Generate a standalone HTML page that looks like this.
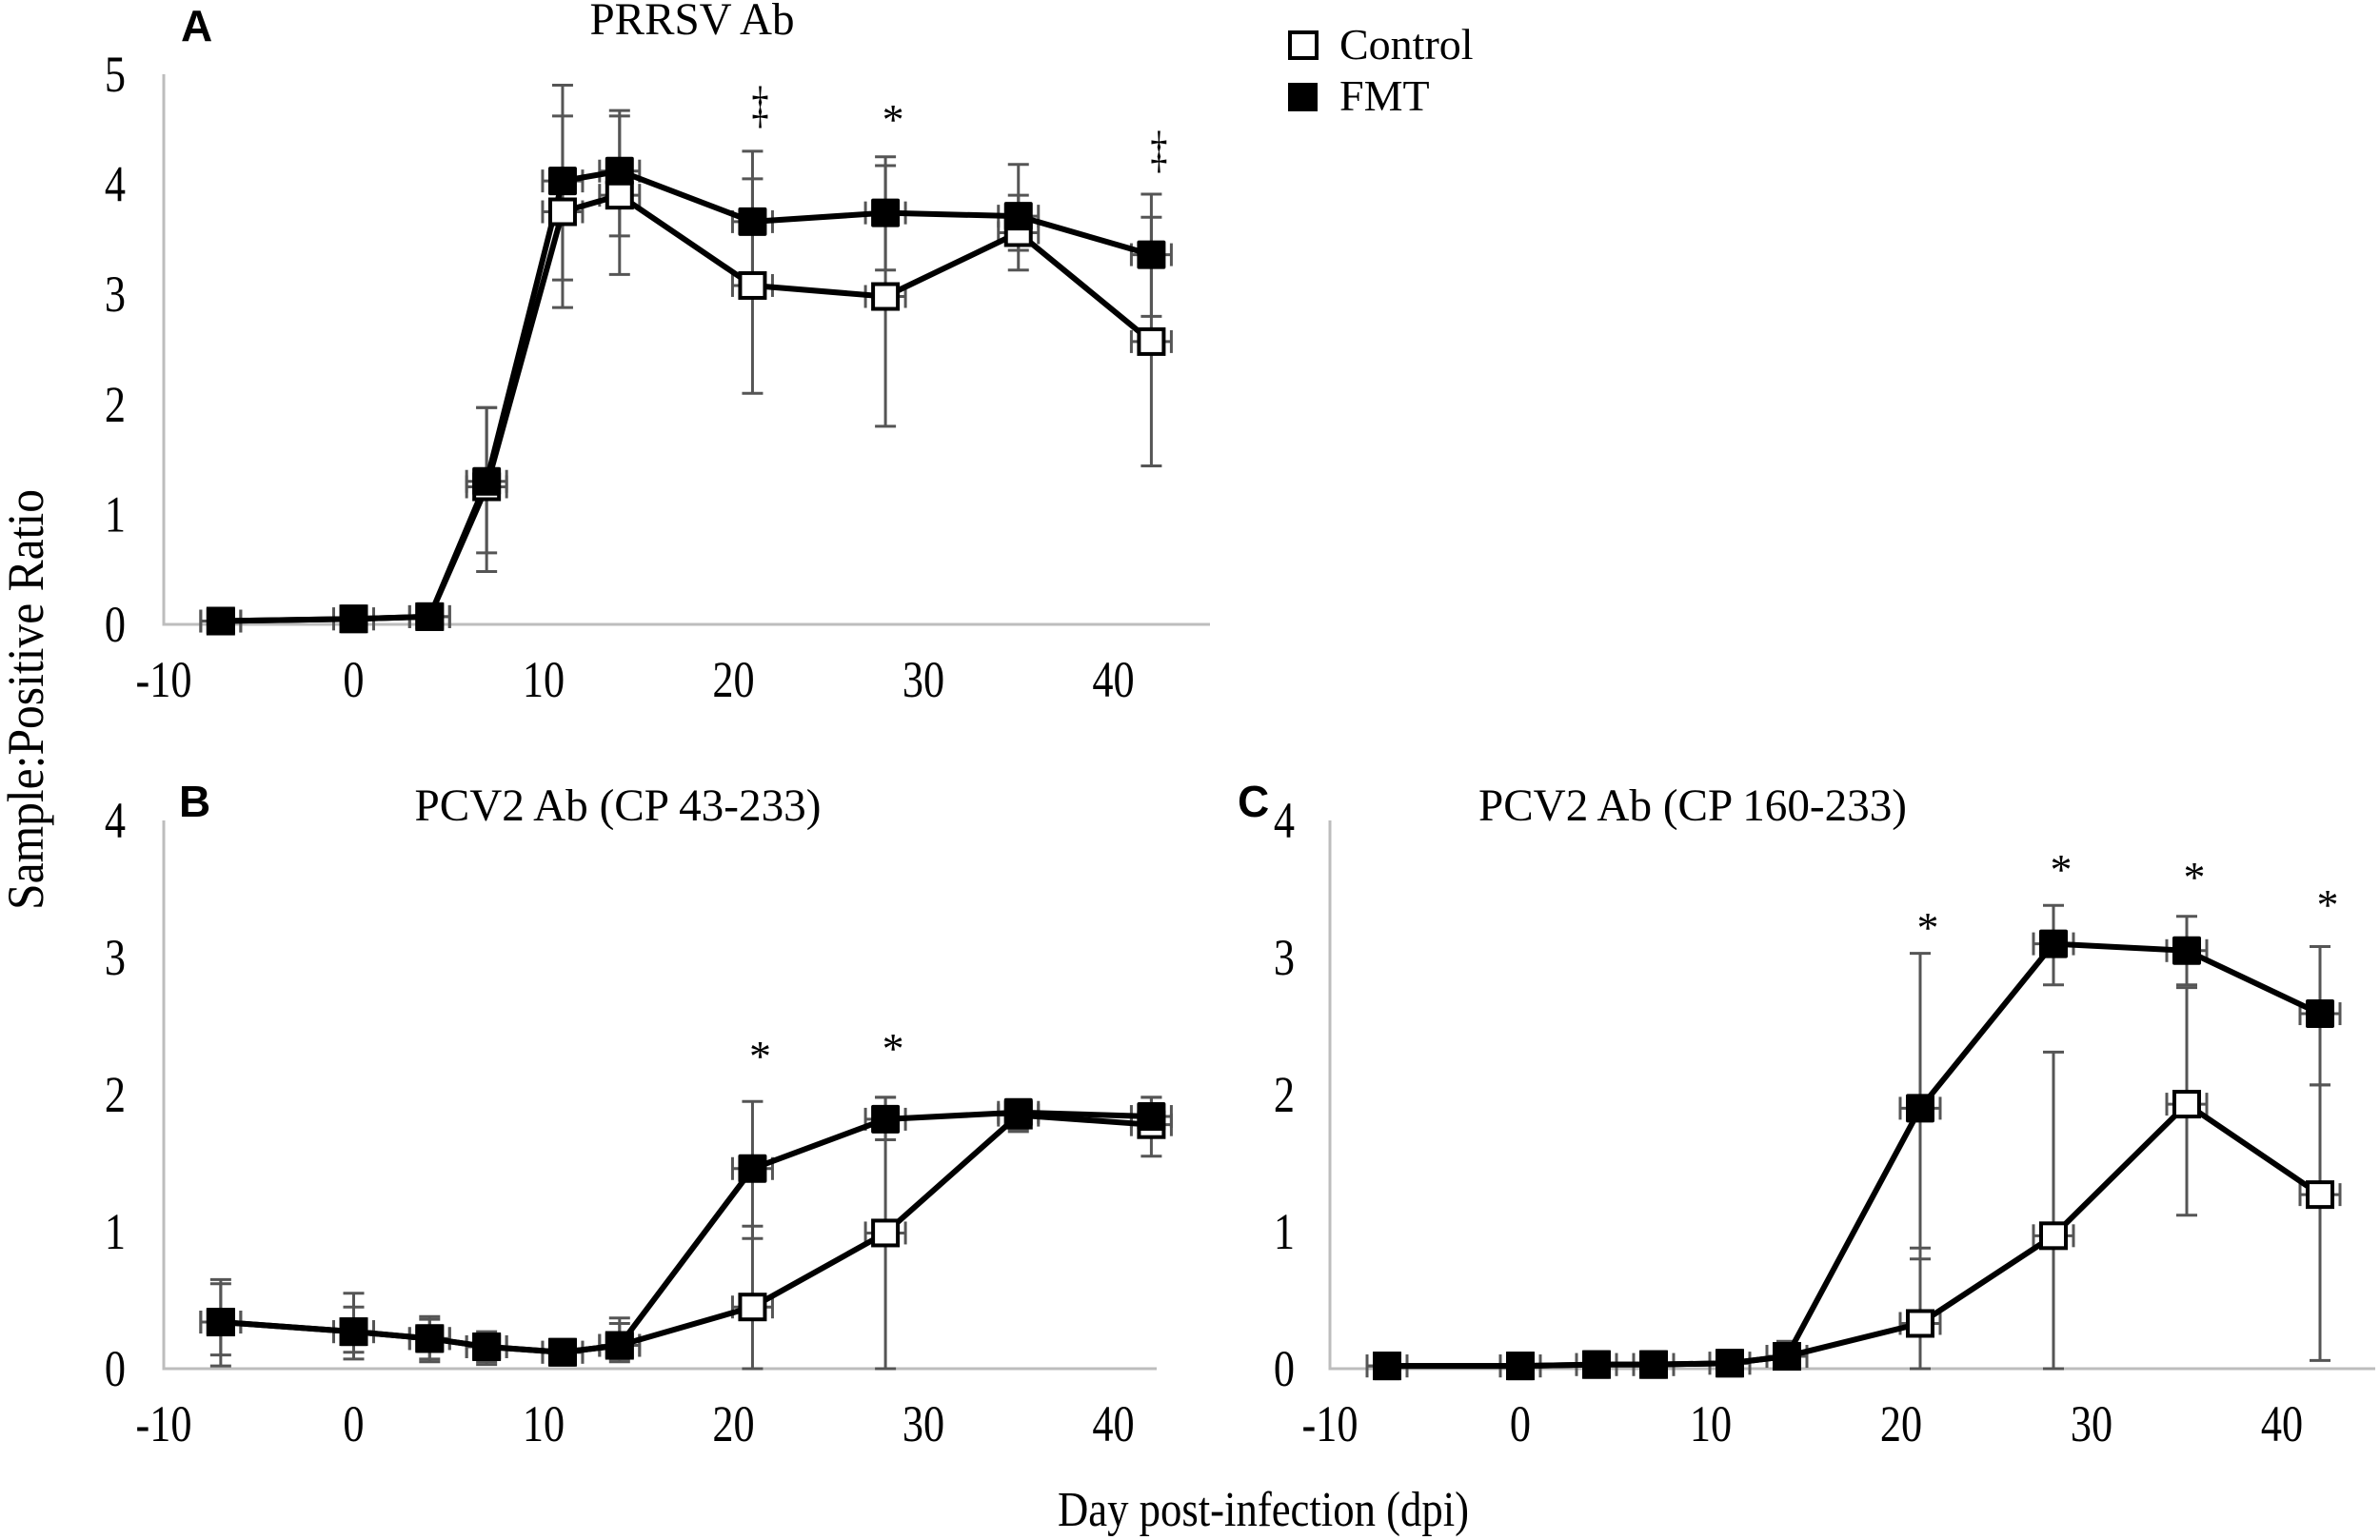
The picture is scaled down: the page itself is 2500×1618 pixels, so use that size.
<!DOCTYPE html>
<html><head><meta charset="utf-8"><style>
html,body{margin:0;padding:0;background:#fff;}
svg{display:block;}
text{font-family:"Liberation Serif",serif;fill:#000;}
.b{font-family:"Liberation Sans",sans-serif;font-weight:bold;}
</style></head><body>
<svg id="s" xmlns="http://www.w3.org/2000/svg" width="2500" height="1618" viewBox="0 0 2500 1618">
<text x="1407" y="62" font-size="46">Control</text>
<text x="1407" y="116" font-size="46">FMT</text>
<rect x="1355" y="34" width="28" height="27" fill="#fff" stroke="#000" stroke-width="4"/>
<rect x="1353" y="87" width="31" height="30" fill="#000"/>
<text transform="translate(45,735) rotate(-90)" text-anchor="middle" font-size="54" textLength="442" lengthAdjust="spacingAndGlyphs">Sample:Positive Ratio</text>
<text x="1327" y="1603" text-anchor="middle" font-size="52" textLength="432" lengthAdjust="spacingAndGlyphs">Day post-infection (dpi)</text>
<text x="190" y="43" class="b" font-size="46">A</text>
<text x="188" y="858" class="b" font-size="46">B</text>
<text x="1300" y="858" class="b" font-size="46">C</text>
<text x="727" y="36" text-anchor="middle" font-size="48" textLength="215" lengthAdjust="spacingAndGlyphs">PRRSV Ab</text>
<text x="649" y="862" text-anchor="middle" font-size="48" textLength="427" lengthAdjust="spacingAndGlyphs">PCV2 Ab (CP 43-233)</text>
<text x="1778" y="862" text-anchor="middle" font-size="48" textLength="450" lengthAdjust="spacingAndGlyphs">PCV2 Ab (CP 160-233)</text>
</svg>
<script>
var S=document.getElementById('s'),NS='http://www.w3.org/2000/svg';
function el(t,a,txt){var e=document.createElementNS(NS,t);for(var k in a)e.setAttribute(k,a[k]);if(txt!==undefined)e.textContent=txt;S.appendChild(e);return e;}
function lbl(x,y,s,anchor){el('text',{transform:'translate('+x+','+y+') scale(0.82,1)','text-anchor':anchor,'font-size':54},s);}
var days=[-7,0,4,7,11,14,21,28,35,42];
function panel(p){
  var X=function(d){return p.x0+(d+10)*p.dx;},Y=function(v){return p.y0-v*p.dy;};
  el('polyline',{points:p.x0+','+Y(p.ymax)+' '+p.x0+','+p.y0+' '+p.xend+','+p.y0,fill:'none',stroke:'#bdbdbd','stroke-width':3});
  for(var v=0;v<=p.ymax;v++)lbl(p.ylx,Y(v)+18,String(v),'end');
  for(var d=-10;d<=40;d+=10)lbl(X(d),p.y0+76,String(d),'middle');
  var g='#555';
  [p.c,p.f].forEach(function(s){
    for(var i=0;i<days.length;i++){
      var x=X(days[i]),y=Y(s.v[i]);
      if(s.e[i]){var lo=Y(s.e[i][0]),hi=Y(s.e[i][1]);
        el('line',{x1:x,y1:lo,x2:x,y2:hi,stroke:g,'stroke-width':3});
        el('line',{x1:x-11,y1:lo,x2:x+11,y2:lo,stroke:g,'stroke-width':3});
        el('line',{x1:x-11,y1:hi,x2:x+11,y2:hi,stroke:g,'stroke-width':3});}
      el('line',{x1:x-21,y1:y,x2:x+21,y2:y,stroke:g,'stroke-width':3});
      el('line',{x1:x-21,y1:y-12,x2:x-21,y2:y+12,stroke:g,'stroke-width':3});
      el('line',{x1:x+21,y1:y-12,x2:x+21,y2:y+12,stroke:g,'stroke-width':3});
    }
  });
  [p.c,p.f].forEach(function(s){
    el('polyline',{points:days.map(function(d,i){return X(d)+','+Y(s.v[i]);}).join(' '),fill:'none',stroke:'#000','stroke-width':6,'stroke-linejoin':'round'});
  });
  [p.c,p.f].forEach(function(s,k){
    for(var i=0;i<days.length;i++){var x=X(days[i]),y=Y(s.v[i]);
      if(k==0)el('rect',{x:x-13,y:y-13,width:26,height:26,fill:'#fff',stroke:'#000','stroke-width':4});
      else el('rect',{x:x-15,y:y-15,width:30,height:30,fill:'#000',rx:2});}
  });
  p.marks.forEach(function(m){
    if(m[2]=='*')el('text',{x:X(m[0])+8,y:m[1],'text-anchor':'middle','font-size':46},'*');
    else el('text',{transform:'translate('+(X(m[0])+8)+','+m[1]+') scale(1,1.5)','text-anchor':'middle','font-size':36},'‡');
  });
}
panel({x0:172,dx:19.95,xend:1271,y0:656,dy:115.6,ymax:5,ylx:132,
 c:{v:[0.03,0.05,0.07,1.25,3.75,3.9,3.08,2.98,3.56,2.57],e:[null,null,null,[0.48,1.97],[2.88,4.62],[3.18,4.67],[2.1,4.05],[1.8,4.17],[3.22,3.9],[1.44,3.7]]},
 f:{v:[0.03,0.05,0.07,1.3,4.03,4.12,3.66,3.74,3.71,3.36],e:[null,null,null,[0.65,1.97],[3.13,4.9],[3.53,4.62],[3.05,4.3],[3.22,4.25],[3.4,4.18],[2.8,3.91]]},
 marks:[[21,128,'‡'],[28,141,'*'],[42,175,'‡']]});
panel({x0:172,dx:19.95,xend:1215,y0:1438,dy:144,ymax:4,ylx:132,
 c:{v:[0.34,0.27,0.22,0.16,0.12,0.17,0.45,0.99,1.85,1.78],e:[[0.02,0.65],[0.07,0.55],[0.05,0.38],[0.03,0.27],[0.03,0.2],[0.05,0.37],[0,1.04],[0,1.98],[1.73,1.92],[1.55,1.98]]},
 f:{v:[0.34,0.27,0.22,0.16,0.12,0.17,1.46,1.82,1.87,1.84],e:[[0.1,0.62],[0.12,0.45],[0.07,0.36],[0.05,0.25],[0.04,0.2],[0.07,0.33],[0.95,1.95],[1.67,1.98],[1.75,1.9],[1.7,1.98]]},
 marks:[[21,1125,'*'],[28,1117,'*']]});
panel({x0:1397,dx:20,xend:2495,y0:1438,dy:144,ymax:4,ylx:1360,
 c:{v:[0.02,0.02,0.03,0.03,0.04,0.09,0.33,0.97,1.93,1.27],e:[null,null,null,null,null,[0.03,0.2],[0,0.88],[0,2.31],[1.12,2.78],[0.06,2.07]]},
 f:{v:[0.02,0.02,0.03,0.03,0.04,0.09,1.9,3.1,3.05,2.59],e:[null,null,null,null,null,[0.03,0.18],[0.8,3.03],[2.8,3.38],[2.8,3.3],[2.07,3.08]]},
 marks:[[21,990,'*'],[28,929,'*'],[35,937,'*'],[42,966,'*']]});
</script>
</body></html>
